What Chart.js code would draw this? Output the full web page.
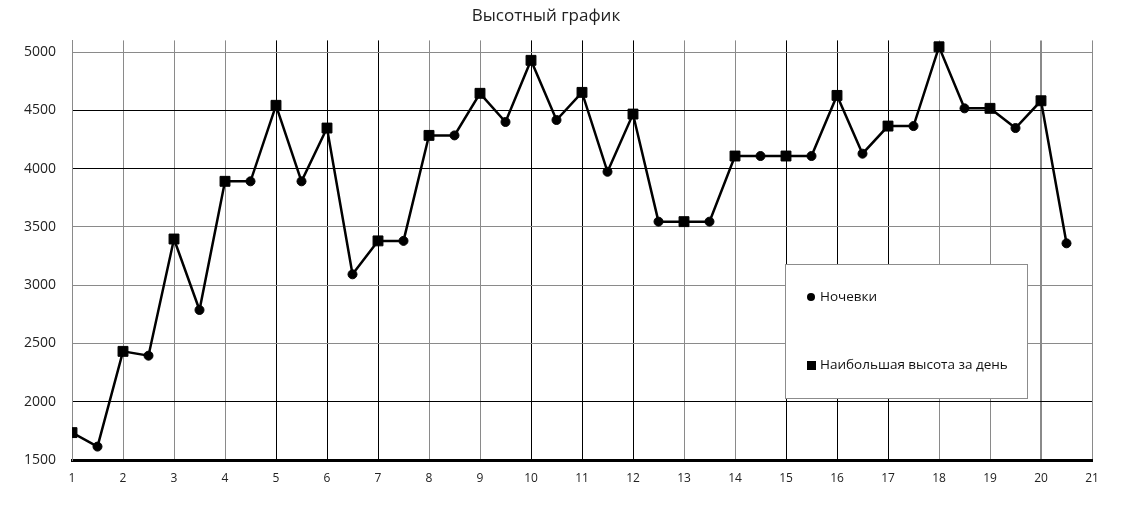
<!DOCTYPE html>
<html>
<head>
<meta charset="utf-8">
<script src="https://cdn.jsdelivr.net/npm/chart.js@4.4.0/dist/chart.umd.min.js"></script>
<style>
  html, body { margin: 0; padding: 0; background: #fff; }
  #wrap { width: 1121px; height: 513px; }
</style>
</head>
<body>
<div id="wrap"><canvas id="altChart"></canvas></div>
<script>
// Высотный график: дневные максимумы (квадраты) и ночевки (кружки)
const dayNumbers = [1, 2, 3, 4, 5, 6, 7, 8, 9, 10, 11, 12, 13, 14, 15, 16, 17, 18, 19, 20];
const dayMaxAlt = [1735, 2432, 3396, 3891, 4543, 4348, 3380, 4285, 4646, 4929,
                   4654, 4468, 3545, 4108, 4108, 4628, 4365, 5045, 4517, 4582];
const nightNumbers = [1.5, 2.5, 3.5, 4.5, 5.5, 6.5, 7.5, 8.5, 9.5, 10.5,
                      11.5, 12.5, 13.5, 14.5, 15.5, 16.5, 17.5, 18.5, 19.5, 20.5];
const nightAlt = [1615, 2395, 2787, 3891, 3891, 3093, 3380, 4285, 4400, 4417,
                  3973, 3545, 3545, 4108, 4108, 4128, 4365, 4517, 4348, 3359];
const yTicks = [1500, 2000, 2500, 3000, 3500, 4000, 4500, 5000];
const seriesNames = ['Ночевки', 'Наибольшая высота за день'];

const dayPoints = dayNumbers.map((x, i) => ({ x: x, y: dayMaxAlt[i] }));
const nightPoints = nightNumbers.map((x, i) => ({ x: x, y: nightAlt[i] }));
// маршрут: все точки по порядку
const routePoints = dayPoints.concat(nightPoints).sort((a, b) => a.x - b.x);

// тёмные и светлые линии сетки как на скане
const darkX = [5, 6, 7, 10, 11, 12, 15, 16, 17];
const darkY = [2000, 4000, 4500];

// легенда внутри области графика
const boxLegend = {
    id: 'boxLegend',
    afterDraw(chart) {
        const c = chart.ctx;
        c.save();
        c.fillStyle = '#fff';
        c.fillRect(785, 264, 242, 134);
        c.strokeStyle = '#8c8c8c';
        c.lineWidth = 1;
        c.strokeRect(785.5, 264.5, 242, 134);
        c.fillStyle = '#000';
        c.beginPath();
        c.arc(811, 297, 4, 0, Math.PI * 2);
        c.fill();
        c.fillRect(807, 361, 9, 9);
        c.fillStyle = '#111';
        c.font = '13.5px "Open Sans"';
        c.textBaseline = 'middle';
        c.fillText(seriesNames[0], 820, 297);
        c.fillText(seriesNames[1], 820, 365);
        c.restore();
    }
};

new Chart(document.getElementById('altChart'), {
    type: 'scatter',
    data: {
        datasets: [{
            label: seriesNames[0],
            data: nightPoints,
            pointStyle: 'circle',
            pointRadius: 4.5,
            backgroundColor: '#000',
            borderColor: '#000',
            showLine: false
        }, {
            label: seriesNames[1],
            data: dayPoints,
            pointStyle: 'rect',
            pointRadius: 7,
            backgroundColor: '#000',
            borderColor: '#000',
            showLine: false
        }, {
            label: 'route',
            data: routePoints,
            showLine: true,
            borderColor: '#000',
            borderWidth: 2.5,
            pointRadius: 0,
            tension: 0
        }]
    },
    options: {
        responsive: true,
        maintainAspectRatio: false,
        animation: false,
        layout: { padding: { left: 0, right: 29, top: 0, bottom: 0 } },
        plugins: {
            legend: { display: false },
            tooltip: { enabled: false },
            title: {
                display: true,
                text: 'Высотный график',
                color: '#222',
                font: { family: 'Open Sans', size: 17, weight: 'normal' },
                padding: { top: 6, bottom: 14 }
            }
        },
        scales: {
            x: {
                type: 'linear',
                min: 1,
                max: 21,
                ticks: {
                    stepSize: 1,
                    padding: 11,
                    color: '#222',
                    font: { family: 'Open Sans', size: 12 }
                },
                grid: {
                    drawTicks: false,
                    color: ctx => darkX.includes(ctx.tick && ctx.tick.value) ? '#000' : '#8a8a8a',
                    lineWidth: ctx => (ctx.tick && ctx.tick.value === 20) ? 2 : 1
                },
                border: { color: '#000', width: 3 },
                afterFit: scale => { scale.height = 53; }
            },
            y: {
                min: 1500,
                max: 5100,
                afterBuildTicks: scale => {
                    scale.ticks = yTicks.map(v => ({ value: v }));
                },
                ticks: {
                    padding: 16,
                    color: '#222',
                    font: { family: 'Open Sans', size: 14 },
                    callback: value => String(value)
                },
                grid: {
                    drawTicks: false,
                    color: ctx => darkY.includes(ctx.tick && ctx.tick.value) ? '#000' : '#8a8a8a'
                },
                border: { color: '#8a8a8a', width: 1 },
                afterFit: scale => { scale.width = 72; }
            }
        }
    },
    plugins: [boxLegend]
});
</script>
</body>
</html>
